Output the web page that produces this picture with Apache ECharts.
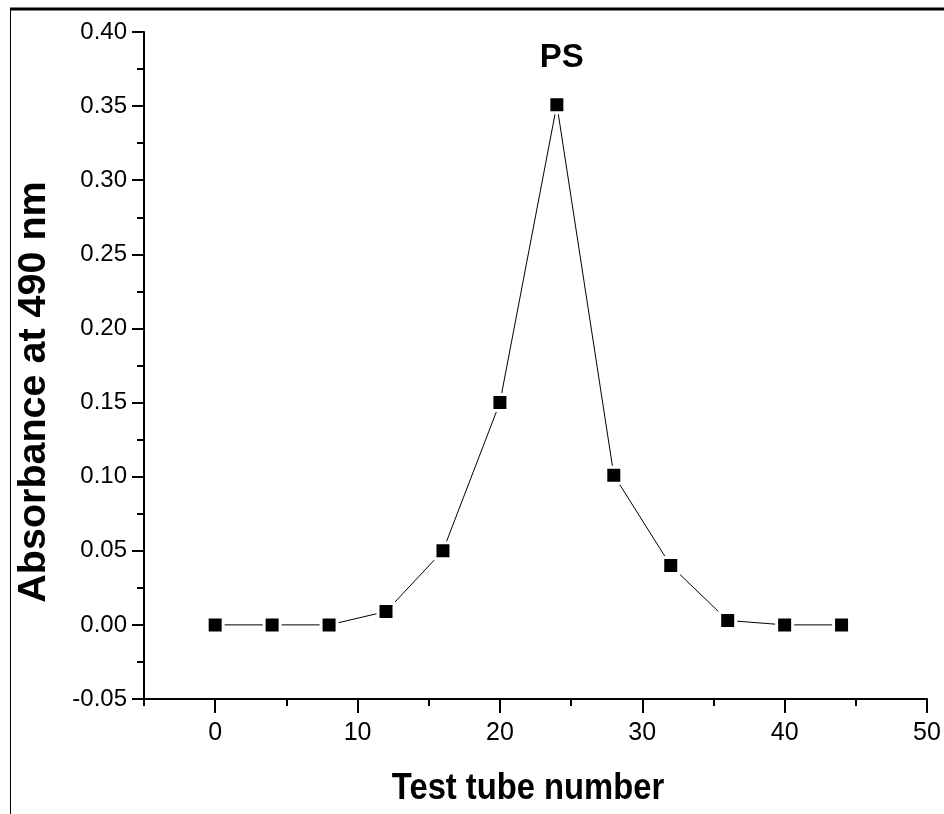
<!DOCTYPE html>
<html>
<head>
<meta charset="utf-8">
<script src="https://cdn.jsdelivr.net/npm/echarts@6/dist/echarts.min.js"></script>
<style>
  html, body { margin: 0; padding: 0; background: #fff; }
  #chart { width: 944px; height: 814px; }
</style>
</head>
<body>
<div id="chart"></div>
<script>
// Test tube fractions and their absorbance readings at 490 nm
const tubeNumbers = [0, 4, 8, 12, 16, 20, 24, 28, 32, 36, 40, 44];
const absorbance = [0.000, 0.000, 0.000, 0.009, 0.050, 0.150, 0.351, 0.101, 0.040, 0.003, 0.000, 0.000];

// Axis tick values
const xMajorTicks = [0, 10, 20, 30, 40, 50];
const xMinorTicks = [-5, 5, 15, 25, 35, 45];

const peakLabel = 'PS';
const xTitle = 'Test tube number';
const yTitle = 'Absorbance at 490 nm';

const FONT = '"Liberation Sans", Arial, sans-serif';

const chart = echarts.init(document.getElementById('chart'), null, { renderer: 'canvas' });

const points = tubeNumbers.map((x, i) => [x, absorbance[i]]);
const peakIndex = absorbance.indexOf(Math.max(...absorbance));

chart.setOption({
  animation: false,
  backgroundColor: '#fff',
  grid: { left: 144, right: 17, top: 32, bottom: 115, containLabel: false },
  xAxis: [
    {
      type: 'value',
      min: -5,
      max: 50,
      interval: 5,
      axisLine: { show: true, onZero: false, lineStyle: { color: '#000', width: 2 } },
      axisTick: { show: true, customValues: xMajorTicks, length: 14, lineStyle: { color: '#000', width: 2 } },
      axisLabel: {
        customValues: xMajorTicks,
        margin: 22,
        fontFamily: FONT,
        fontSize: 25,
        color: '#000'
      },
      splitLine: { show: false }
    },
    {
      type: 'value',
      min: -5,
      max: 50,
      interval: 5,
      position: 'bottom',
      axisLine: { show: false, onZero: false },
      axisTick: { show: true, customValues: xMinorTicks, length: 7, lineStyle: { color: '#000', width: 2 } },
      axisLabel: { show: false },
      splitLine: { show: false }
    }
  ],
  yAxis: {
    type: 'value',
    min: -0.05,
    max: 0.40,
    interval: 0.05,
    axisLine: { show: true, onZero: false, lineStyle: { color: '#000', width: 2 } },
    axisTick: { show: true, length: 12, lineStyle: { color: '#000', width: 2 } },
    minorTick: { show: true, splitNumber: 2, length: 7, lineStyle: { color: '#000', width: 2 } },
    axisLabel: {
      margin: 17,
      fontFamily: FONT,
      fontSize: 24,
      color: '#000',
      formatter: v => v.toFixed(2)
    },
    splitLine: { show: false }
  },
  series: [
    {
      type: 'line',
      xAxisIndex: 0,
      data: points,
      symbol: 'rect',
      symbolSize: 16,
      itemStyle: { color: '#000', borderColor: '#fff', borderWidth: 3 },
      lineStyle: { color: '#000', width: 1 },
      markPoint: {
        symbol: 'circle',
        symbolSize: 0,
        data: [{ coord: points[peakIndex], value: peakLabel }],
        label: {
          show: true,
          formatter: peakLabel,
          position: 'top',
          distance: 30,
          offset: [5, 0],
          fontFamily: FONT,
          fontSize: 33,
          fontWeight: 'bold',
          color: '#000'
        }
      }
    }
  ],
  graphic: [
    // frame lines along the top and left edges
    { type: 'line', shape: { x1: 10, y1: 9, x2: 944, y2: 9 }, style: { stroke: '#000', lineWidth: 3 } },
    { type: 'line', shape: { x1: 10.5, y1: 8, x2: 10.5, y2: 814 }, style: { stroke: '#000', lineWidth: 1 } },
    // axis titles
    {
      type: 'text',
      x: 528, y: 789,
      scaleX: 0.885,
      style: {
        text: xTitle, fontFamily: FONT, fontSize: 37, fontWeight: 'bold',
        fill: '#000', align: 'center', verticalAlign: 'middle'
      }
    },
    {
      type: 'text',
      x: 34, y: 392,
      rotation: Math.PI / 2,
      style: {
        text: yTitle, fontFamily: FONT, fontSize: 39.5, fontWeight: 'bold',
        fill: '#000', align: 'center', verticalAlign: 'middle'
      }
    }
  ]
});
</script>
</body>
</html>
